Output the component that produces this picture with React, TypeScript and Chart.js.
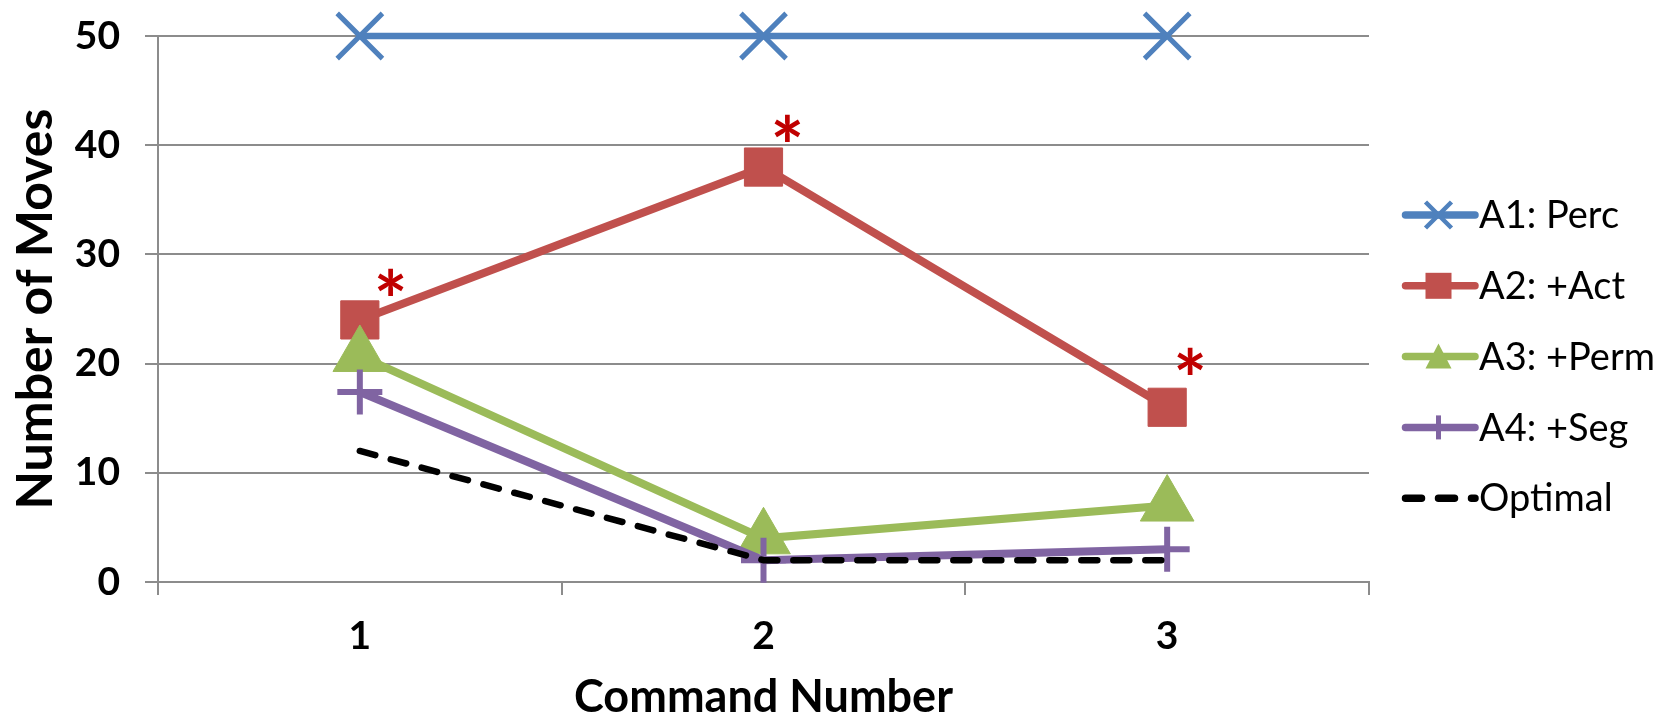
import React, { useEffect, useRef } from 'react';
import { Chart, registerables } from 'chart.js';

Chart.register(...registerables);

// ---- data ----
const categories = ['1', '2', '3'];
const seriesNames = ['A1: Perc', 'A2: +Act', 'A3: +Perm', 'A4: +Seg', 'Optimal'];
const a1Perc = [50, 50, 50];
const a2Act = [24, 38, 16];
const a3Perm = [20.7, 4, 7];
const a4Seg = [17.4, 2, 3];
const optimal = [12, 2, 2];
const yTickValues = [0, 10, 20, 30, 40, 50];
const significantPoints = [0, 1, 2]; // A2 points marked with "*"

// ---- style ----
const BLUE = '#4F81BD';
const RED = '#C0504D';
const GREEN = '#9BBB59';
const PURPLE = '#8064A2';
const BLACK = '#000000';
const GRID = '#8c8c8c';
const STAR = '#C00000';
const FONT = 'Lato';
const starOffsets = [[31, -38], [24, -39], [23, -46]];

const starPlugin = {
  id: 'stars',
  afterDatasetsDraw(chart: any) {
    const meta = chart.getDatasetMeta(1);
    const ctx = chart.ctx as CanvasRenderingContext2D;
    ctx.save();
    ctx.font = `bold 100px ${FONT}`;
    const m = ctx.measureText('*');
    const h = m.actualBoundingBoxAscent + m.actualBoundingBoxDescent;
    const size = (100 * 27) / h;
    ctx.font = `bold ${size}px ${FONT}`;
    const m2 = ctx.measureText('*');
    ctx.fillStyle = STAR;
    ctx.textAlign = 'left';
    ctx.textBaseline = 'alphabetic';
    significantPoints.forEach((idx, i) => {
      const pt = meta.data[idx];
      if (!pt) return;
      const [dx, dy] = starOffsets[i];
      const cx = pt.x + dx;
      const cy = pt.y + dy;
      const x = cx - (m2.actualBoundingBoxRight - m2.actualBoundingBoxLeft) / 2;
      const y = cy + (m2.actualBoundingBoxAscent - m2.actualBoundingBoxDescent) / 2;
      ctx.fillText('*', x, y);
    });
    ctx.restore();
  },
};

const legendPlugin = {
  id: 'customLegend',
  afterDraw(chart: any) {
    const ctx = chart.ctx as CanvasRenderingContext2D;
    const area = chart.chartArea;
    const x0 = area.right + 33;
    const x1 = area.right + 106;
    const tx = area.right + 110;
    const startY = 215;
    const step = 70.8;
    const mid = (x0 + x1) / 2;
    chart.data.datasets.forEach((ds: any, i: number) => {
      const y = startY + i * step;
      ctx.save();
      ctx.strokeStyle = ds.borderColor;
      ctx.lineWidth = 7.5;
      ctx.lineCap = 'round';
      if (ds.borderDash && ds.borderDash.length) ctx.setLineDash([16, 17]);
      ctx.beginPath();
      ctx.moveTo(x0 + 3.5, y);
      ctx.lineTo(x1, y);
      ctx.stroke();
      ctx.setLineDash([]);
      ctx.lineCap = 'butt';
      const style = ds.pointStyle;
      ctx.fillStyle = ds.borderColor;
      if (style === 'crossRot') {
        const s = 13;
        ctx.lineWidth = 4.5;
        ctx.beginPath();
        ctx.moveTo(mid - s, y - s);
        ctx.lineTo(mid + s, y + s);
        ctx.moveTo(mid - s, y + s);
        ctx.lineTo(mid + s, y - s);
        ctx.stroke();
      } else if (style === 'rect') {
        ctx.fillRect(mid - 13, y - 13, 26, 26);
      } else if (style === 'triangle') {
        ctx.beginPath();
        ctx.moveTo(mid, y - 13);
        ctx.lineTo(mid + 13, y + 12);
        ctx.lineTo(mid - 13, y + 12);
        ctx.closePath();
        ctx.fill();
      } else if (style === 'cross') {
        ctx.lineWidth = 5;
        ctx.beginPath();
        ctx.moveTo(mid, y - 12);
        ctx.lineTo(mid, y + 12);
        ctx.stroke();
      }
      ctx.fillStyle = '#000';
      ctx.font = `normal 38px ${FONT}`;
      ctx.textAlign = 'left';
      ctx.textBaseline = 'middle';
      ctx.fillText(seriesNames[i], tx, y + 1);
      ctx.restore();
    });
  },
};

export default function App() {
  const ref = useRef<HTMLCanvasElement | null>(null);
  useEffect(() => {
    if (!ref.current) return;
    const tickFont = { family: FONT, weight: 'bold' as const, size: 39 };
    const xTitleFont = { family: FONT, weight: 'bold' as const, size: 45, lineHeight: 1 };
    const yTitleFont = { family: FONT, weight: 'bold' as const, size: 50, lineHeight: 1 };
    const chart = new Chart(ref.current, {
      type: 'line',
      data: {
        labels: categories,
        datasets: [
          {
            label: seriesNames[0], data: a1Perc, borderColor: BLUE, backgroundColor: BLUE,
            borderWidth: 6.5, pointStyle: 'crossRot', pointRadius: 32, pointBorderWidth: 5,
            pointBorderColor: BLUE, pointBackgroundColor: BLUE, order: 5, clip: false, tension: 0,
          },
          {
            label: seriesNames[1], data: a2Act, borderColor: RED, backgroundColor: RED,
            borderWidth: 8, pointStyle: 'rect', pointRadius: 27, pointBorderWidth: 1,
            pointBorderColor: RED, pointBackgroundColor: RED, order: 4, clip: false, tension: 0,
          },
          {
            label: seriesNames[2], data: a3Perm, borderColor: GREEN, backgroundColor: GREEN,
            borderWidth: 8, pointStyle: 'triangle', pointRadius: 31, pointBorderWidth: 1,
            pointBorderColor: GREEN, pointBackgroundColor: GREEN, order: 3, clip: false, tension: 0,
          },
          {
            label: seriesNames[3], data: a4Seg, borderColor: PURPLE, backgroundColor: PURPLE,
            borderWidth: 8, pointStyle: 'cross', pointRadius: 22.5, pointBorderWidth: 6,
            pointBorderColor: PURPLE, pointBackgroundColor: PURPLE, order: 2, clip: false, tension: 0,
          },
          {
            label: seriesNames[4], data: optimal, borderColor: BLACK, backgroundColor: BLACK,
            borderWidth: 6.5, borderDash: [16, 16], borderCapStyle: 'round', pointRadius: 0,
            order: 1, clip: false, tension: 0,
          },
        ],
      },
      options: {
        animation: false,
        responsive: true,
        maintainAspectRatio: false,
        layout: { autoPadding: false, padding: { left: 0, right: 297, top: 36, bottom: 0 } },
        plugins: { legend: { display: false }, tooltip: { enabled: false } },
        scales: {
          x: {
            type: 'category',
            offset: true,
            grid: { offset: true, drawOnChartArea: false, drawTicks: true, tickLength: 13, color: GRID, lineWidth: 2 },
            border: { color: GRID, width: 2 },
            ticks: { font: tickFont, color: '#000', padding: 18 },
            title: { display: true, text: 'Command Number', font: xTitleFont, color: '#000', padding: { top: 0, bottom: 0 } },
            afterFit(scale: any) {
              scale.height = 138;
              scale.paddingLeft = 0;
              scale.paddingRight = 0;
            },
          },
          y: {
            min: 0,
            max: 50,
            afterBuildTicks(scale: any) { scale.ticks = yTickValues.map((v) => ({ value: v })); },
            grid: { color: GRID, lineWidth: 2, tickLength: 13, drawTicks: true },
            border: { color: GRID, width: 2 },
            ticks: { font: tickFont, color: '#000', padding: 25 },
            title: { display: true, text: 'Number of Moves', font: yTitleFont, color: '#000', padding: { top: 11, bottom: 0 } },
            afterFit(scale: any) {
              scale.width = 158;
              scale.paddingTop = 0;
              scale.paddingBottom = 0;
            },
          },
        },
      },
      plugins: [starPlugin, legendPlugin],
    } as any);
    return () => chart.destroy();
  }, []);
  return (
    <div style={{ position: 'fixed', left: 0, top: 0, width: 1666, height: 720, background: '#fff' }}>
      <canvas ref={ref} />
    </div>
  );
}
